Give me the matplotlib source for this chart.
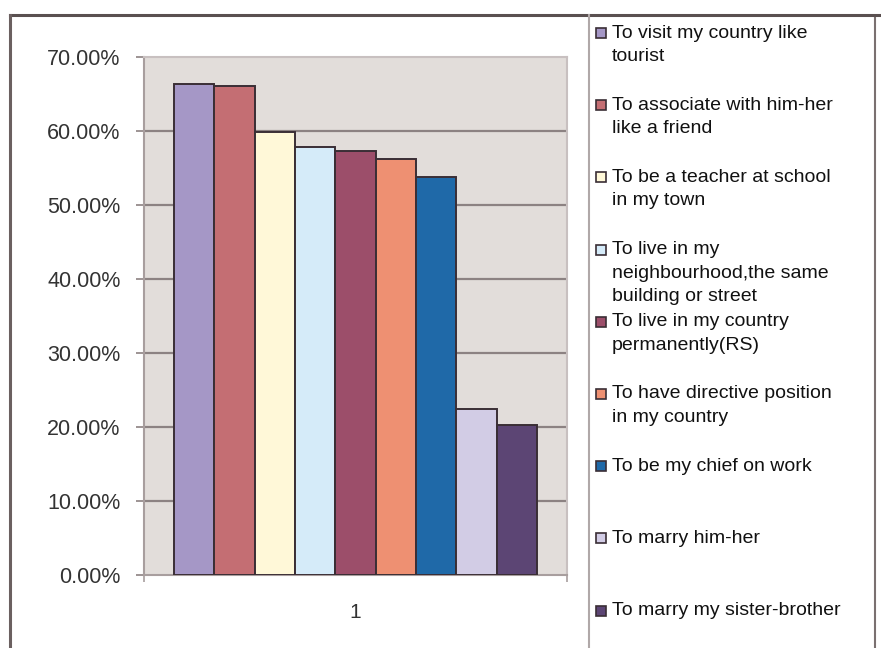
import matplotlib
matplotlib.use("Agg")
import matplotlib.pyplot as plt
from matplotlib.lines import Line2D
from matplotlib.patches import Rectangle
from matplotlib.ticker import FuncFormatter, FixedLocator

plt.rcParams["font.family"] = ["Liberation Sans", "DejaVu Sans"]

# share of answers (%) for each statement
labels = [
    "To visit my country like\ntourist",
    "To associate with him-her\nlike a friend",
    "To be a teacher at school\nin my town",
    "To live in my\nneighbourhood,the same\nbuilding or street",
    "To live in my country\npermanently(RS)",
    "To have directive position\nin my country",
    "To be my chief on work",
    "To marry him-her",
    "To marry my sister-brother",
]
values = [66.4, 66.1, 59.8, 57.9, 57.3, 56.2, 53.8, 22.4, 20.3]
colors = ["#A597C6", "#C46E73", "#FFF8D8", "#D5EBF9", "#9C4E6A",
          "#EE9072", "#1F69A8", "#D2CCE5", "#5C4574"]
yticks = [0, 10, 20, 30, 40, 50, 60, 70]

W, H = 881, 648
fig = plt.figure(figsize=(W / 100, H / 100), dpi=100)
fig.patch.set_facecolor("white")


def fx(px):
    return px / W


def fy(py):
    return 1 - py / H


# plot area
ax = fig.add_axes([fx(144), fy(575), fx(567) - fx(144), fy(57) - fy(575)])
ax.set_facecolor("#E2DDDA")
ax.set_xlim(0.5, 1.5)
ax.set_ylim(0, 70)

bar_w = 0.0955
n = len(values)
for i, (v, c) in enumerate(zip(values, colors)):
    ax.bar(1 + (i - (n - 1) / 2) * bar_w, v, width=bar_w, color=c,
           edgecolor="#3a2e35", linewidth=1.4, zorder=3)

for t in yticks[1:-1]:
    ax.axhline(t, color="#8c8282", linewidth=1.6, zorder=1)

ax.yaxis.set_major_locator(FixedLocator(yticks))
ax.yaxis.set_major_formatter(FuncFormatter(lambda v, p: f"{v:.2f}%"))
ax.tick_params(axis="y", direction="out", length=6, width=1.2, color="#8c8282",
               pad=11, labelsize=15.5, labelcolor="#333333")

ax.set_xticks([1])
ax.set_xticklabels(["1"])
ax.set_xticks([0.5, 1.5], minor=True)
ax.tick_params(axis="x", which="major", length=0, pad=20, labelsize=15,
               labelcolor="#333333")
ax.tick_params(axis="x", which="minor", direction="out", length=5, width=1.2,
               color="#a89e9e")

for side in ["top", "right"]:
    ax.spines[side].set_color("#c8c0c0")
    ax.spines[side].set_linewidth(1.5)
for side in ["left", "bottom"]:
    ax.spines[side].set_color("#a89e9e")
    ax.spines[side].set_linewidth(1.5)

# legend drawn as a column of swatches and wrapped labels
step = 72.2
line_h = 23.5
for i, (lab, c) in enumerate(zip(labels, colors)):
    yc = 33 + i * step
    fig.patches.append(Rectangle((fx(596), fy(yc + 5)), fx(10), fy(yc - 5) - fy(yc + 5),
                                 transform=fig.transFigure, facecolor=c,
                                 edgecolor="#3a2e35", linewidth=1.2))
    for j, part in enumerate(lab.split("\n")):
        fig.text(fx(612), fy(yc + j * line_h), part, fontsize=14,
                 color="#111111", ha="left", va="center")

# chart frame
frame = [
    ((10, 881), (15, 15), "#5a5050", 2.2),
    ((10, 10), (15, 648), "#6b6060", 2.2),
    ((589, 589), (15, 648), "#b0a8a8", 1.5),
    ((875, 875), (18, 648), "#7a7070", 1.5),
]
for xs, ys, col, lw in frame:
    fig.add_artist(Line2D([fx(xs[0]), fx(xs[1])], [fy(ys[0]), fy(ys[1])],
                          transform=fig.transFigure, color=col, linewidth=lw))

fig.savefig("out.png", dpi=100)
